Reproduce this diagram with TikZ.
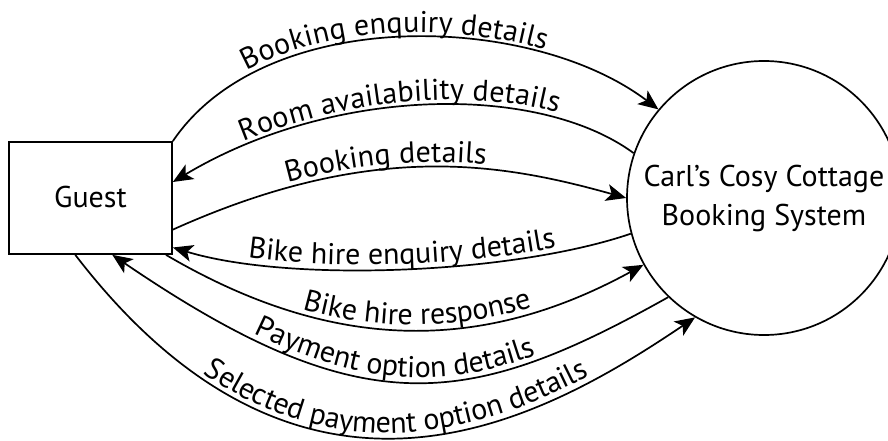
\documentclass[tikz,border=0pt]{standalone}
\usepackage{fontspec}
\setmainfont{PT Sans}
\usetikzlibrary{arrows.meta,decorations.text}
\newcommand\lblfont{\fontsize{30}{39}\selectfont}
\newcommand\dfdflow[7]{%
  \draw[flowline,#1] #2 .. controls #3 and #4 .. #5;
  \path[decorate,decoration={text along path,text={|\lblfont|#6},text align={center,#7},raise=5pt}] #2 .. controls #3 and #4 .. #5;}
\begin{document}
\begin{tikzpicture}[x=1pt,y=-1pt,
  flowline/.style={line width=1.7pt},
  toSys/.style={-{Stealth[length=20pt,width=17pt,inset=5pt]}},
  toGuest/.style={{Stealth[length=20pt,width=17pt,inset=5pt]}-},
  box/.style={draw,line width=1.7pt,inner sep=0pt,font=\lblfont}]
\useasboundingbox (0,0) rectangle (888,441);
\fill[white] (0,0) rectangle (888,441);
\node[box,minimum width=163pt,minimum height=112pt] (guest) at (90.5,198) {\raisebox{3pt}{Guest}};
\node[box,circle,minimum size=274pt,align=center] (sys) at (764,198) {Carl’s Cosy Cottage\\Booking System};
\dfdflow{toSys}{(guest.north east)}{(265,5)}{(530,12)}{(sys.140)}{Booking enquiry details}{right indent=26pt}
\dfdflow{toGuest}{(guest.11)}{(333,86)}{(538,83)}{(sys.161)}{Room availability details}{right indent=4pt}
\dfdflow{toSys}{(guest.-21)}{(372,140)}{(501,163)}{(sys.180)}{Booking details}{right indent=20pt}
\dfdflow{toGuest}{(guest.-31.5)}{(290,283)}{(513,274)}{(sys.195)}{Bike hire enquiry details}{left indent=0pt}
\dfdflow{toSys}{(guest.-37.7)}{(328,350)}{(477,356)}{(sys.209)}{Bike hire response}{left indent=28pt}
\dfdflow{toGuest}{(guest.-69)}{(362,425)}{(467,410)}{(sys.226)}{Payment option details}{left indent=18pt}
\dfdflow{toSys}{(guest.-105.5)}{(305,554)}{(543,420)}{(sys.240)}{Selected payment option details}{left indent=55pt}
\end{tikzpicture}
\end{document}
